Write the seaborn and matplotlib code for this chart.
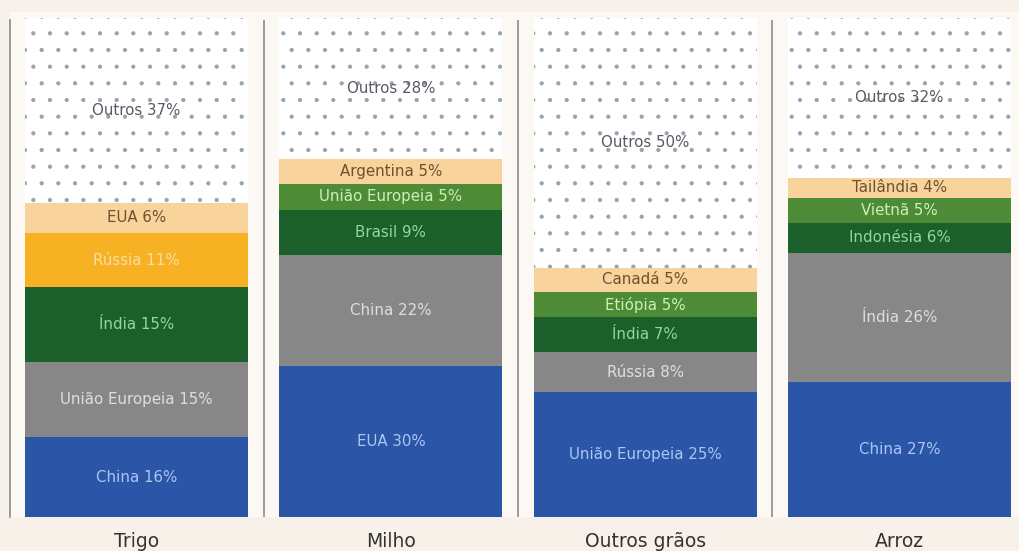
import numpy as np
import pandas as pd
import matplotlib
matplotlib.use("Agg")
import matplotlib.pyplot as plt
import seaborn as sns

# ---- data ----
crops = ["Trigo", "Milho", "Outros grãos", "Arroz"]

trigo_countries = ["China", "União Europeia", "Índia", "Rússia", "EUA", "Outros"]
trigo_shares = [16, 15, 15, 11, 6, 37]

milho_countries = ["EUA", "China", "Brasil", "União Europeia", "Argentina", "Outros"]
milho_shares = [30, 22, 9, 5, 5, 28]

outros_countries = ["União Europeia", "Rússia", "Índia", "Etiópia", "Canadá", "Outros"]
outros_shares = [25, 8, 7, 5, 5, 50]

arroz_countries = ["China", "Índia", "Indonésia", "Vietnã", "Tailândia", "Outros"]
arroz_shares = [27, 26, 6, 5, 4, 32]

countries = [trigo_countries, milho_countries, outros_countries, arroz_countries]
shares = [trigo_shares, milho_shares, outros_shares, arroz_shares]

# ---- styles ----
BG = "#f8f1e9"
INNER = "#fcf8f3"
BLUE, GRAY, DKGREEN, MDGREEN, PEACH, ORANGE = "#2b55a6", "#878787", "#1b5f2b", "#4d8b37", "#f8d49c", "#f6b223"
layer_colors = [
    [BLUE] * 4,
    [GRAY] * 4,
    [DKGREEN] * 4,
    [ORANGE, MDGREEN, MDGREEN, MDGREEN],
    [PEACH] * 4,
    ["white"] * 4,
]
text_colors = {
    BLUE: "#aac6f4", GRAY: "#dedede", DKGREEN: "#93d6a0", MDGREEN: "#cdf0b6",
    PEACH: "#6e5030", ORANGE: "#fcdca6", "white": "#565b62",
}

font = "DejaVu Sans"
plt.rcParams["hatch.linewidth"] = 0.6

fig = plt.figure(figsize=(10.19, 5.51), dpi=100, facecolor=BG)
ax = fig.add_axes([10 / 1019, 34 / 551, 1 - 10 / 1019, (517 - 12) / 551])
ax.set_facecolor(INNER)

# build long table
rows = []
for ci, crop in enumerate(crops):
    tot = sum(shares[ci])
    cum = 0.0
    for k, (c, s) in enumerate(zip(countries[ci], shares[ci])):
        pct = s / tot * 100
        rows.append(dict(crop=crop, layer=k, country=c, share=s, bottom=cum, top=cum + pct))
        cum += pct
df = pd.DataFrame(rows)

width = 223 / 254
# draw stacked bars back-to-front using cumulative tops
for k in range(5, -1, -1):
    sub = df[df.layer == k].set_index("crop").loc[crops].reset_index()
    pal = dict(zip(crops, layer_colors[k]))
    n_before = len(ax.patches)
    sns.barplot(data=sub, x="crop", y="top", hue="crop", palette=pal, order=crops,
                hue_order=crops, legend=False, width=width, saturation=1,
                linewidth=0, ax=ax)
    new = ax.patches[n_before:]
    if k == 5:
        for p in new:
            p.set_hatch(".")
            p.set_edgecolor("#98a2ae")
            p.set_linewidth(0)

# labels
for _, r in df.iterrows():
    ci = crops.index(r.crop)
    col = layer_colors[r.layer][ci]
    ax.text(ci, (r.bottom + r.top) / 2, f"{r.country} {r.share}%",
            ha="center", va="center", fontsize=10.8, color=text_colors[col],
            family=font)

# separators
for xs in [0.5, 1.5, 2.5]:
    ax.plot([xs, xs], [0, 99.5], color="#8c8c8c", lw=1.2, solid_capstyle="butt")

ax.set_xlim(-126.5 / 254, 3 + 119.5 / 254)
ax.set_ylim(0, 100 * (517 - 12) / (517 - 18))
for s in ["top", "right", "bottom"]:
    ax.spines[s].set_visible(False)
ax.spines["left"].set_color("#8c8c8c")
ax.spines["left"].set_linewidth(1.2)
ax.spines["left"].set_bounds(0, 99.5)
ax.set_yticks([])
ax.set_ylabel("")
ax.set_xlabel("")
ax.set_xticks(range(len(crops)))
ax.set_xticklabels(crops, fontsize=13.5, color="#333333", family=font)
ax.tick_params(axis="x", length=0, pad=11)

fig.savefig("out.png", dpi=100, facecolor=BG)
